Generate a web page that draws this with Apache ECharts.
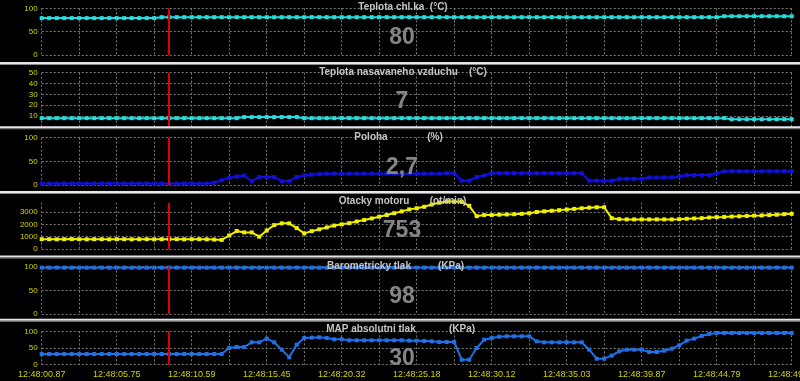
<!DOCTYPE html>
<html><head><meta charset="utf-8">
<script src="https://cdn.jsdelivr.net/npm/echarts@6/dist/echarts.min.js"></script>
<style>html,body{margin:0;padding:0;background:#000;overflow:hidden}#c{width:800px;height:381px}</style>
</head><body><div id="c"></div>
<script>
// ---- data ----
const timeLabels = ['12:48:00.87','12:48:05.75','12:48:10.59','12:48:15.45','12:48:20.32','12:48:25.18','12:48:30.12','12:48:35.03','12:48:39.87','12:48:44.79','12:48:49.70'];
const cursorIndex = 17;
const panelTitles = ['Teplota chl.ka  (°C)','Teplota nasavaneho vzduchu    (°C)','Poloha','Otacky motoru','Barometricky tlak','MAP absolutni tlak'];
const panelUnits = ['','','(%)','(ot/min)','(KPa)','(KPa)'];
const currentValues = ['80','7','2,7','753','98','30'];

const coolantTemp = [
79,79,79,79,79,79,79,79,79,79,
79,79,79,79,79,79,81,81,81,81,
81,81,81,81,81,81,81,81,81,81,
81,81,81,81,81,81,81,81,81,81,
81,81,81,81,81,81,81,81,81,81,
81,81,81,81,81,81,81,81,81,81,
81,81,81,81,81,81,81,81,81,81,
81,81,81,81,81,81,81,81,81,81,
81,81,81,81,81,81,81,81,81,81,
81,83,83,83,83,83,83,83,83,83,
83];
const intakeTemp = [
8,8,8,8,8,8,8,8,8,8,
8,8,8,8,8,8,8,8,8,8,
8,8,8,8,8,8,8,9,9,9,
9,9,9,9,9,8,8,8,8,8,
8,8,8,8,8,8,8,8,8,8,
8,8,8,8,8,8,8,8,8,8,
8,8,8,8,8,8,8,8,8,8,
8,8,8,8,8,8,8,8,8,8,
8,8,8,8,8,8,8,8,8,8,
8,8,7,7,7,7,7,7,7,7,
7];
const throttle = [
3,3,3,3,3,3,3,3,3,3,
3,3,3,3,3,3,3,3,3,3,
3,3,3,5,10,15,18,20,8,17,
17,17,8,8,17,20,22,23,24,24,
24,24,24,24,24,24,24,24,24,24,
24,24,24,24,25,25,9,9,17,20,
25,25,25,25,25,25,25,25,25,25,
25,25,25,9,9,9,9,13,13,13,
13,16,16,16,16,18,21,21,21,21,
25,29,29,29,29,29,29,29,29,29,
29];
const rpm = [
800,800,790,800,810,800,790,800,800,790,
800,800,790,800,800,790,800,800,800,790,
800,800,790,770,740,1100,1460,1350,1350,1000,
1500,1940,2080,2080,1700,1270,1450,1600,1750,1900,
2000,2100,2230,2350,2480,2620,2750,2900,3050,3210,
3300,3420,3600,3750,3850,3850,3820,3500,2660,2750,
2750,2780,2800,2820,2850,2900,3000,3050,3100,3150,
3200,3250,3300,3350,3380,3380,2500,2420,2400,2400,
2400,2400,2400,2400,2400,2420,2450,2480,2500,2550,
2580,2600,2630,2650,2680,2700,2720,2750,2780,2820,
2850];
const baro = [
98,98,98,98,98,98,98,98,98,98,
98,98,98,98,98,98,98,98,98,98,
98,98,98,98,98,98,98,98,98,98,
98,98,98,98,98,98,98,98,98,98,
98,98,98,98,98,98,98,98,98,98,
98,98,98,98,98,98,98,98,98,98,
98,98,98,98,98,98,98,98,98,98,
98,98,98,98,98,98,98,98,98,98,
98,98,98,98,98,98,98,98,98,98,
98,98,98,98,98,98,98,98,98,98,
98];
const mapPressure = [
32,32,32,32,32,32,32,32,32,32,
32,32,32,32,32,32,32,32,32,32,
32,32,32,32,32,50,53,53,67,67,
78,67,45,22,60,80,81,82,80,76,
76,73,73,73,73,73,73,73,73,72,
72,71,70,68,68,68,15,15,50,75,
80,84,85,85,85,85,70,67,67,67,
67,67,67,45,18,18,27,40,45,45,
45,38,38,42,48,58,72,78,86,92,
95,95,95,95,95,95,95,95,95,95,
95];

// ---- layout / style ----
const seriesValues = [coolantTemp, intakeTemp, throttle, rpm, baro, mapPressure];
const colors = ['#22dede','#22dede','#1010e0','#f0f000','#2070e8','#2070e8'];
// labelMax: highest labelled value (y splitLines drawn only up to it)
const panels = [
  {top:8.3, bottom:55, min:0, max:100, interval:50, labelMax:100},
  {top:72.7, bottom:126.8, min:0, max:50, interval:10, labelMax:50},
  {top:137.7, bottom:185, min:0, max:100, interval:50, labelMax:100},
  {top:202.7, bottom:249.1, min:0, max:3750, interval:1000, labelMax:3000},
  {top:266.7, bottom:314, min:0, max:100, interval:50, labelMax:100},
  {top:331.3, bottom:364.7, min:0, max:100, interval:50, labelMax:100}
];
const titleX = [403, 403, 371, 374, 369, 371];
const unitX = [0, 0, 435, 448, 451, 462];
const titleY = [7.5, 72, 137, 201.5, 266, 329.5];
const numberY = [38, 102, 168, 231, 297, 359];
const separators = [62, 126.3, 191, 255.5, 318.7];

const gridLine = {show:true, lineStyle:{color:'#777', width:1, type:[2,2]}};
const labelFont = 'Liberation Sans, Arial';
const grids = [], xAxes = [], yAxes = [], series = [], graphics = [];
panels.forEach((p, k) => {
  const h = p.bottom - p.top;
  // main grid: x grid lines, series, cursor
  const gi = grids.length;
  grids.push({left:41.7, right:8.3, top:p.top, height:h, containLabel:false, outerBoundsMode:'none'});
  xAxes.push({
    type:'value', gridIndex:gi, min:0, max:100, interval:5,
    axisLine:{show:false}, axisTick:{show:false}, splitLine:gridLine,
    axisLabel:{show:k === 5, color:'#d2d200', fontSize:9, fontFamily:labelFont, margin:5,
      formatter: v => (v % 10 === 0 ? timeLabels[v / 10] : '')}
  });
  const fullY = p.labelMax === p.max;
  yAxes.push({
    type:'value', gridIndex:gi, min:p.min, max:p.max, interval:p.interval,
    axisLine:{show:false}, axisTick:{show:false}, splitLine: fullY ? gridLine : {show:false},
    axisLabel:{show: fullY, color:'#d2d200', fontSize:8, fontFamily:labelFont, margin:4,
      formatter: v => ((k === 1 && v === 0) || v % p.interval !== 0) ? '' : String(v)}
  });
  series.push({
    type:'line', xAxisIndex:gi, yAxisIndex:gi,
    data: seriesValues[k].map((v, i) => [i, v]),
    symbol:'rect', symbolSize:4, showSymbol:true, clip:false,
    lineStyle:{color:colors[k], width:2}, itemStyle:{color:colors[k]},
    animation:false,
    markLine:{silent:true, symbol:'none', label:{show:false}, animation:false,
      lineStyle:{color:'#e00000', width:2, type:'solid'}, data:[{xAxis:cursorIndex}]}
  });
  if (!fullY) {
    // helper grid holding only the labelled part of the y scale
    const hi = grids.length;
    const subTop = p.bottom - h * (p.labelMax - p.min) / (p.max - p.min);
    grids.push({left:41.7, right:8.3, top:subTop, height:p.bottom - subTop, containLabel:false, outerBoundsMode:'none'});
    xAxes.push({type:'value', gridIndex:hi, min:0, max:100, show:false, splitLine:{show:false}});
    yAxes.push({
      type:'value', gridIndex:hi, min:p.min, max:p.labelMax, interval:p.interval,
      axisLine:{show:false}, axisTick:{show:false}, splitLine:gridLine,
      axisLabel:{color:'#d2d200', fontSize:8, fontFamily:labelFont, margin:4, formatter: v => String(v)}
    });
  }
  graphics.push({type:'text', x:titleX[k], y:titleY[k], z:50, style:{text:panelTitles[k], fill:'#c4c4c4',
    font:'bold 10px "Liberation Sans", Arial', textAlign:'center', textVerticalAlign:'middle'}});
  if (panelUnits[k]) graphics.push({type:'text', x:unitX[k], y:titleY[k], z:50, style:{text:panelUnits[k], fill:'#c4c4c4',
    font:'bold 10px "Liberation Sans", Arial', textAlign:'center', textVerticalAlign:'middle'}});
  graphics.push({type:'text', x:402, y:numberY[k], z:50, style:{text:currentValues[k], fill:'#858585',
    font:'bold 23px "Liberation Sans", Arial', textAlign:'center', textVerticalAlign:'middle'}});
});
separators.forEach(y => {
  graphics.push({type:'rect', z:60, shape:{x:0, y:y, width:800, height:2}, style:{fill:'#e6e6e6'}});
  graphics.push({type:'rect', z:60, shape:{x:0, y:y + 2, width:800, height:1}, style:{fill:'#8a8a8a'}});
});

const chart = echarts.init(document.getElementById('c'), null, {renderer:'canvas'});
chart.setOption({
  backgroundColor:'#000',
  animation:false,
  grid:grids, xAxis:xAxes, yAxis:yAxes, series:series, graphic:graphics
});
</script>
</body></html>
